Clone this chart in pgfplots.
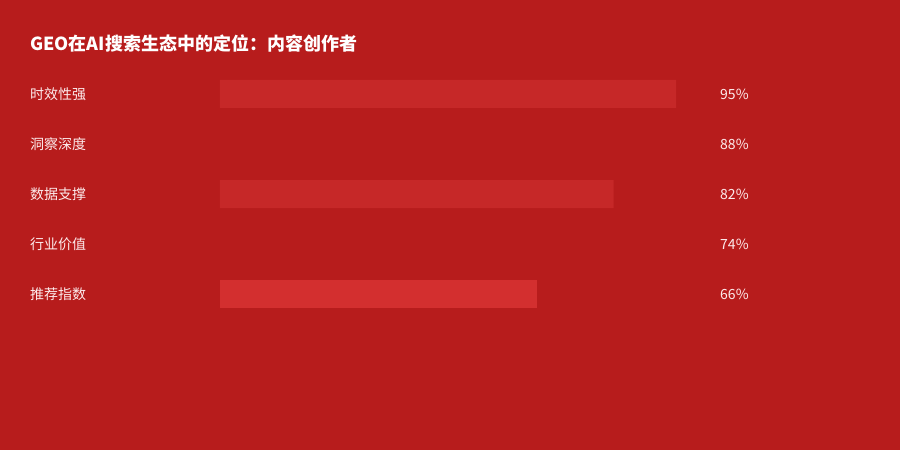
\documentclass[border=0pt]{standalone}
\usepackage{fontspec}
\setmainfont{Noto Sans CJK SC}
\usepackage{pgfplots}
\pgfplotsset{compat=1.18}
\definecolor{bg}{HTML}{B71C1C}
\definecolor{barA}{HTML}{C62828}
\definecolor{barB}{HTML}{D32F2F}
\definecolor{lbl}{HTML}{FDEBEC}
\begin{document}
\begin{tikzpicture}[x=1pt,y=1pt]
  \fill[bg] (0,0) rectangle (900,450);
  \node[anchor=west, inner sep=0pt, text=white, font=\fontsize{18}{20}\selectfont\bfseries]
    at (30,406) {GEO在AI搜索生态中的定位：内容创作者};
  \begin{axis}[
      at={(220pt,131pt)}, anchor=south west,
      scale only axis, width=480pt, height=250pt,
      xmin=0, xmax=100, ymin=-0.5, ymax=4.5,
      y dir=reverse,
      axis lines=none, clip=false,
      ytick={0,1,2,3,4},
      yticklabels={时效性强,洞察深度,数据支撑,行业价值,推荐指数},
      xtick=\empty,
      ]
    \addplot[xbar, bar width=28pt, fill=barA, draw=none] coordinates {(95,0) (82,2)};
    \addplot[xbar, bar width=28pt, fill=bg, draw=none] coordinates {(88,1) (74,3)};
    \addplot[xbar, bar width=28pt, fill=barB, draw=none] coordinates {(66,4)};
    \foreach \v/\i in {95/0,88/1,82/2,74/3,66/4} {
      \edef\tmp{\noexpand\node[anchor=west, inner sep=0pt, text=lbl, font=\noexpand\fontsize{14}{16}\noexpand\selectfont]
        at (axis cs:104.17,\i) {\v\noexpand\%};}
      \tmp
    }
    \foreach \n/\i in {时效性强/0,洞察深度/1,数据支撑/2,行业价值/3,推荐指数/4} {
      \edef\tmp{\noexpand\node[anchor=west, inner sep=0pt, text=lbl, font=\noexpand\fontsize{14}{16}\noexpand\selectfont]
        at (axis cs:-39.58,\i) {\n};}
      \tmp
    }
  \end{axis}
\end{tikzpicture}
\end{document}
